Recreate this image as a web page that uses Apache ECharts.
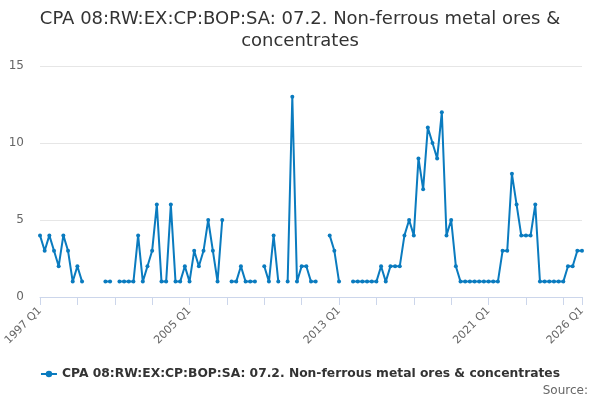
<!DOCTYPE html>
<html>
<head>
<meta charset="utf-8">
<script src="https://cdn.jsdelivr.net/npm/echarts@6/dist/echarts.min.js"></script>
<style>
html,body{margin:0;padding:0;background:#fff;}
#chart{width:600px;height:400px;}
</style>
</head>
<body>
<div id="chart"></div>
<script>
const seriesName = 'CPA 08:RW:EX:CP:BOP:SA: 07.2. Non-ferrous metal ores & concentrates';
const titleText = 'CPA 08:RW:EX:CP:BOP:SA: 07.2. Non-ferrous metal ores &\nconcentrates';
const startYear = 1997;
const endYear = 2026;
const quarters = [];
for (let y = startYear; y <= endYear; y++) {
  for (let q = 1; q <= 4; q++) {
    if (y === endYear && q > 1) break;
    quarters.push(y + ' Q' + q);
  }
}
const values1997to2006 = [4,3,4,3,2,4,3,1,2,1, null,null,null,null, 1,1,null,1,1,1,1,4,1,2,3,6,1,1,6,1,1,2,1,3,2,3,5,3,1,5];
const values2007to2013 = [null,1,1,2,1,1,1,null,2,1,4,1,null,1,13,1,2,2,1,1,null,null,4,3,1];
const values2013to2019 = [null,null,1,1,1,1,1,1,2,1,2,2,2,4,5,4,9,7,11,10,9,12,4,5,2];
const values2019to2026 = [1,1,1,1,1,1,1,1,1,3,3,8,6,4,4,4,6,1,1,1,1,1,1,2,2,3,3];
const values = values1997to2006.concat(values2007to2013, values2013to2019, values2019to2026);
const yTicks = [0, 5, 10, 15];

const chart = echarts.init(document.getElementById('chart'), null, {renderer: 'canvas'});
const lastIdx = quarters.length - 1;
const font = 'DejaVu Sans';
chart.setOption({
  animation: false,
  backgroundColor: '#ffffff',
  textStyle: {fontFamily: font},
  title: {
    text: titleText,
    left: 'center',
    top: 3,
    textStyle: {fontFamily: font, fontSize: 18, fontWeight: 'normal', color: '#333333', lineHeight: 22}
  },
  grid: {left: 40, right: 18, top: 66, bottom: 103, containLabel: false},
  legend: {
    bottom: 15,
    left: 'center',
    itemWidth: 16,
    itemHeight: 8,
    itemGap: 10,
    textStyle: {fontFamily: font, fontSize: 12.3, fontWeight: 'bold', color: '#333333'},
    data: [seriesName]
  },
  graphic: [{
    type: 'text',
    right: 12,
    bottom: 3,
    style: {text: 'Source:', fontFamily: font, fontSize: 12, fill: '#666666'}
  }],
  xAxis: {
    type: 'category',
    data: quarters,
    boundaryGap: false,
    axisLine: {lineStyle: {color: '#ccd6eb', width: 1}},
    axisTick: {
      show: true,
      length: 8,
      lineStyle: {color: '#ccd6eb'},
      interval: function (i) { return i % 8 === 0 || i === lastIdx; }
    },
    axisLabel: {
      rotate: 45,
      margin: 12,
      fontSize: 11,
      color: '#666666',
      fontFamily: font,
      interval: function (i) { return i % 32 === 0 || i === lastIdx; }
    },
    splitLine: {show: false}
  },
  yAxis: {
    type: 'value',
    min: yTicks[0],
    max: yTicks[yTicks.length - 1],
    interval: yTicks[1] - yTicks[0],
    axisLine: {show: false},
    axisTick: {show: false},
    axisLabel: {fontSize: 12, color: '#666666', margin: 16, fontFamily: font},
    splitLine: {lineStyle: {color: '#e6e6e6', width: 1}}
  },
  series: [{
    name: seriesName,
    type: 'line',
    data: values,
    connectNulls: false,
    showAllSymbol: true,
    symbol: 'circle',
    symbolSize: 4,
    color: '#0a7bbf',
    lineStyle: {width: 2, color: '#0a7bbf'},
    itemStyle: {color: '#0a7bbf'}
  }]
});
</script>
</body>
</html>
